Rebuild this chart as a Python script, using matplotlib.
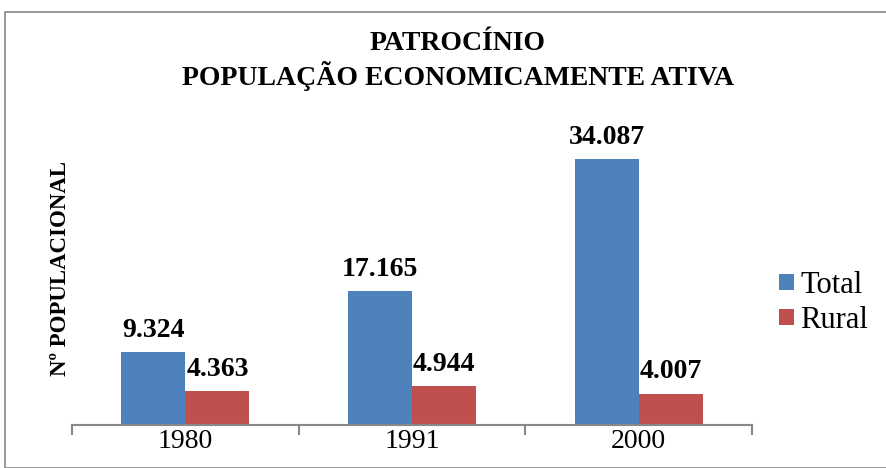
import numpy as np
import matplotlib
matplotlib.use("Agg")
import matplotlib.pyplot as plt
from matplotlib.patches import Rectangle

years = ["1980", "1991", "2000"]
total = [9324, 17165, 34087]
rural = [4363, 4944, 4007]
labels_total = ["9.324", "17.165", "34.087"]
labels_rural = ["4.363", "4.944", "4.007"]

plt.rcParams["font.family"] = ["Liberation Serif", "DejaVu Serif"]

fig = plt.figure(figsize=(8.86, 4.68), dpi=100)
fig.patches.append(Rectangle((5 / 886, 0), 1, 1 - 12 / 468, transform=fig.transFigure,
                             fill=False, edgecolor="#888888", linewidth=1.2))

ax = fig.add_axes([72 / 886, 43 / 468, 680 / 886, 312 / 468])
x = np.arange(len(years))
w = 0.283
b1 = ax.bar(x - w / 2, total, w, color="#4f81bd", label="Total")
b2 = ax.bar(x + w / 2, rural, w, color="#c0504d", label="Rural")

for bars, labs in ((b1, labels_total), (b2, labels_rural)):
    for r, t in zip(bars, labs):
        ax.text(r.get_x() + r.get_width() / 2, r.get_height() + 1200, t,
                ha="center", va="bottom", fontsize=20, fontweight="bold")

ax.set_xlim(-0.5, 2.5)
ax.set_ylim(0, 40000)
ax.set_yticks([])
ax.set_xticks([-0.5, 0.5, 1.5, 2.5])
ax.set_xticklabels([])
ax.set_xticks(x, minor=True)
ax.set_xticklabels(years, minor=True, fontsize=20)
ax.tick_params(axis="x", which="major", length=7, width=1.5, color="#888888", direction="out")
ax.tick_params(axis="x", which="minor", length=0, pad=3)
for s in ("top", "right", "left"):
    ax.spines[s].set_visible(False)
ax.spines["bottom"].set_color("#888888")
ax.spines["bottom"].set_linewidth(1.5)

fig.text(60 / 886, 1 - 268 / 468, "Nº POPULACIONAL", rotation=90, ha="center", va="center",
         fontsize=16.5, fontweight="bold")

fig.text(458 / 886, 1 - 44 / 468, "PATROCÍNIO", ha="center", va="center",
         fontsize=20, fontweight="bold")
fig.text(458 / 886, 1 - 76 / 468, "POPULAÇÃO ECONOMICAMENTE ATIVA", ha="center", va="center",
         fontsize=20, fontweight="bold")

fig.legend(handles=[b1, b2], loc="center left", bbox_to_anchor=(779 / 886, 1 - 303 / 468),
           frameon=False, fontsize=22, handlelength=0.5, handleheight=0.4,
           handletextpad=0.2, labelspacing=0.2, borderpad=0, borderaxespad=0)

fig.savefig("out.png", dpi=100)
